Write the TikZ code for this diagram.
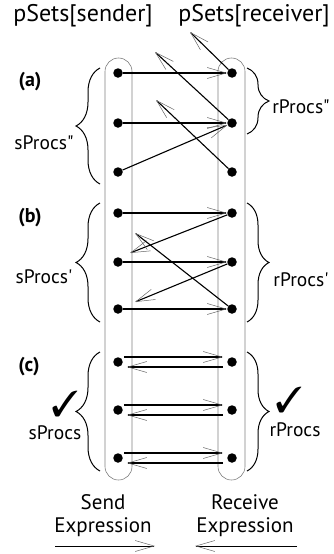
\documentclass[tikz,border=0pt]{standalone}
\usepackage{fontspec}
\usepackage{pifont}
\newfontfamily\pts{PT Sans}
\usetikzlibrary{arrows.meta,decorations.pathreplacing}
\begin{document}
\begin{tikzpicture}[x=1pt,y=-1pt,
  dot/.style={circle,fill=black,inner sep=0pt,minimum size=9.5pt},
  conn/.style={line width=1.1pt,-{Straight Barb[length=19pt,width=11pt,line width=0.5pt,color=black!60]}},
  capsule/.style={draw=black!50,line width=0.6pt,rounded corners=13.5pt},
  bracel/.style={decorate,decoration={brace,amplitude=24pt},line width=1pt},
  bracer/.style={decorate,decoration={brace,amplitude=22pt},line width=1pt},
  lab/.style={font=\pts\fontsize{19.5}{21}\selectfont,inner sep=0pt},
  title/.style={font=\pts\fontsize{24}{26}\selectfont,inner sep=0pt},
  bot/.style={font=\pts\fontsize{21}{24}\selectfont,inner sep=0pt},
  part/.style={font=\pts\bfseries\fontsize{20}{22}\selectfont,inner sep=0pt},
  chk/.style={font=\fontsize{36}{38}\selectfont,inner sep=0pt}
]
\useasboundingbox (0,0) rectangle (334,554);
% capsules
\draw[capsule] (105,58) rectangle (132,480);
\draw[capsule] (218,58) rectangle (245,480);
% titles
\node[title] (ts) at (83,16) {pSets[sender]};
\node[title] (tr) at (254,16) {pSets[receiver]};
% dots
\node[dot] (l1) at (118,73) {};
\node[dot] (l2) at (118,123) {};
\node[dot] (l3) at (118,172) {};
\node[dot] (l4) at (118,213) {};
\node[dot] (l5) at (118,262) {};
\node[dot] (l6) at (118,309) {};
\node[dot] (l7) at (118,362) {};
\node[dot] (l8) at (118,410) {};
\node[dot] (l9) at (118,458) {};
\node[dot] (r1) at (232,73) {};
\node[dot] (r2) at (232,123) {};
\node[dot] (r3) at (232,172) {};
\node[dot] (r4) at (232,213) {};
\node[dot] (r5) at (232,262) {};
\node[dot] (r6) at (232,309) {};
\node[dot] (r7) at (232,362) {};
\node[dot] (r8) at (232,410) {};
\node[dot] (r9) at (232,458) {};
% (a)
\coordinate (fa1) at (190,32);
\coordinate (fa2) at (155,52);
\coordinate (fa3) at (156,100);
\draw[conn] (l1) -- (r1);
\draw[conn] (l2) -- (r2);
\draw[conn] (l3) -- (r2);
\draw[conn] (r1) -- (fa1);
\draw[conn] (r2) -- (fa2);
\draw[conn] (r3) -- (fa3);
% (b)
\coordinate (fb1) at (130,253);
\coordinate (fb2) at (135,302);
\coordinate (fb3) at (135,233);
\draw[conn] (l4) -- (r4);
\draw[conn] (r4) -- (fb1);
\draw[conn] (l5) -- (r5);
\draw[conn] (r5) -- (fb2);
\draw[conn] (l6) -- (r6);
\draw[conn] (r6) -- (fb3);
% (c)
\foreach \i in {7,8,9}{
  \draw[conn] ([xshift=1pt,yshift=5pt]l\i.east) -- ([xshift=-4pt,yshift=5pt]r\i.west);
  \draw[conn] ([xshift=-4pt,yshift=-5pt]r\i.west) -- ([xshift=4pt,yshift=-5pt]l\i.east);
}
% braces
\coordinate (bla1) at (100,184); \coordinate (bla2) at (100,68);
\coordinate (blb1) at (100,322); \coordinate (blb2) at (100,203);
\coordinate (blc1) at (100,471); \coordinate (blc2) at (100,352);
\coordinate (bra1) at (247,68); \coordinate (bra2) at (247,134);
\coordinate (brb1) at (247,203); \coordinate (brb2) at (247,322);
\coordinate (brc1) at (247,352); \coordinate (brc2) at (247,471);
\draw[bracel] (bla1) -- (bla2);
\draw[bracel] (blb1) -- (blb2);
\draw[bracel] (blc1) -- (blc2);
\draw[bracer] (bra1) -- (bra2);
\draw[bracer] (brb1) -- (brb2);
\draw[bracer] (brc1) -- (brc2);
% labels
\node[part] (pa) at (30,82) {(a)};
\node[part] (pb) at (30,218) {(b)};
\node[part] (pc) at (29,367) {(c)};
\node[lab] (sa) at (44,143) {sProcs"};
\node[lab] (ra) at (301,107) {rProcs"};
\node[lab] (sb) at (44,277) {sProcs'};
\node[lab] (rb) at (301,280) {rProcs'};
\node[lab] (sc) at (55,433) {sProcs};
\node[lab] (rc) at (295,430) {rProcs};
\node[chk] (ckl) at (65,404) {\ding{51}};
\node[chk] (ckr) at (289,400) {\ding{51}};
% bottom
\node[bot] (s1) at (103,502) {Send};
\node[bot] (s2) at (103,527) {Expression};
\node[bot] (e1) at (245,502) {Receive};
\node[bot] (e2) at (245,527) {Expression};
\coordinate (al1) at (55,546); \coordinate (al2) at (155,546);
\coordinate (ar1) at (297,546); \coordinate (ar2) at (195,546);
\draw[conn,line width=0.7pt] (al1) -- (al2);
\draw[conn,line width=0.7pt] (ar1) -- (ar2);
\end{tikzpicture}
\end{document}
